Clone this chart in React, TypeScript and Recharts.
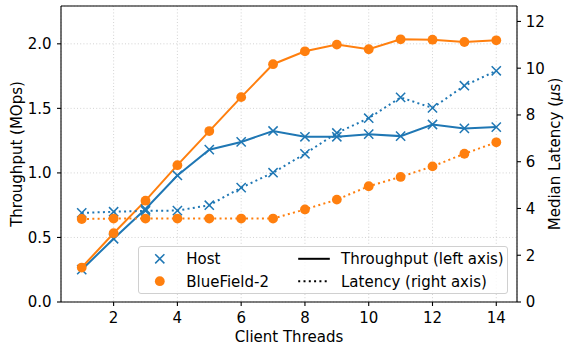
import React from 'react';
import { LineChart, Line, XAxis, YAxis, CartesianGrid, Legend, ReferenceLine } from 'recharts';

const threads = [1, 2, 3, 4, 5, 6, 7, 8, 9, 10, 11, 12, 13, 14];
const hostThroughput = [0.25, 0.49, 0.72, 0.98, 1.18, 1.24, 1.325, 1.28, 1.28, 1.30, 1.285, 1.375, 1.345, 1.355];
const bfThroughput = [0.267, 0.533, 0.785, 1.06, 1.324, 1.587, 1.842, 1.942, 1.994, 1.958, 2.035, 2.032, 2.014, 2.027];
const hostLatency = [3.81, 3.86, 3.9, 3.91, 4.14, 4.89, 5.53, 6.34, 7.23, 7.86, 8.75, 8.3, 9.25, 9.89];
const bfLatency = [3.55, 3.57, 3.57, 3.57, 3.57, 3.57, 3.57, 3.96, 4.38, 4.95, 5.35, 5.8, 6.34, 6.83];
const xTicks = [2, 4, 6, 8, 10, 12, 14];
const leftTicks = [0, 0.5, 1.0, 1.5, 2.0];
const rightTicks = [0, 2, 4, 6, 8, 10, 12];

const BLUE = '#1f77b4';
const ORANGE = '#ff7f0e';
const FONT = '"DejaVu Sans", sans-serif';
const FS = 15;
const LEFT_MAX = 2.293;
const RIGHT_MAX = 12.66;

const data = threads.map((t, i) => ({
  t,
  hostT: hostThroughput[i],
  bfT: bfThroughput[i],
  hostL: hostLatency[i],
  bfL: bfLatency[i],
}));

const XDot = (props: any) => {
  const { cx, cy, index } = props;
  if (cx == null || cy == null) return <g key={`x${index}`} />;
  const s = 4.6;
  return (
    <path
      key={`x${index}-${props.dataKey}`}
      d={`M${cx - s},${cy - s}L${cx + s},${cy + s}M${cx - s},${cy + s}L${cx + s},${cy - s}`}
      stroke={BLUE}
      strokeWidth={1.5}
      fill="none"
    />
  );
};

const ODot = (props: any) => {
  const { cx, cy, index } = props;
  if (cx == null || cy == null) return <g key={`o${index}`} />;
  return <circle key={`o${index}-${props.dataKey}`} cx={cx} cy={cy} r={4.9} fill={ORANGE} stroke="none" />;
};

const LW = 370;
const LH = 48;

const LegendBox = () => {
  const r1 = 12.8;
  const r2 = 35.2;
  const s = 4.6;
  const mx = 21.8;
  return (
    <div
      style={{
        width: LW,
        height: LH,
        boxSizing: 'border-box',
        border: '1px solid #d0d0d0',
        borderRadius: 3,
        background: 'rgba(255,255,255,0.8)',
        position: 'relative',
      }}
    >
      <svg width={LW} height={LH} style={{ position: 'absolute', left: -1, top: -1 }}>
        <path
          d={`M${mx - s},${r1 - s}L${mx + s},${r1 + s}M${mx - s},${r1 + s}L${mx + s},${r1 - s}`}
          stroke={BLUE}
          strokeWidth={1.5}
        />
        <circle cx={mx} cy={r2} r={4.9} fill={ORANGE} />
        <text x={48.2} y={r1 + 5.4} fontFamily={FONT} fontSize={FS} fill="#000">Host</text>
        <text x={48.2} y={r2 + 5.4} fontFamily={FONT} fontSize={FS} fill="#000">BlueField-2</text>
        <line x1={160.2} x2={191.8} y1={r1} y2={r1} stroke="#000" strokeWidth={2} />
        <line x1={160.2} x2={191.8} y1={r2} y2={r2} stroke="#000" strokeWidth={2} strokeDasharray="2 3.3" />
        <text x={203} y={r1 + 5.4} fontFamily={FONT} fontSize={FS} fill="#000">Throughput (left axis)</text>
        <text x={203} y={r2 + 5.4} fontFamily={FONT} fontSize={FS} fill="#000">Latency (right axis)</text>
      </svg>
    </div>
  );
};

const tickStyle = { fill: '#000', fontSize: FS, fontFamily: FONT };

export default function App() {
  return (
    <div style={{ position: 'absolute', left: 0, top: 0, background: '#fff' }}>
      <LineChart width={565} height={348} data={data} margin={{ top: 6, right: 0, bottom: 0, left: 0 }}>
        <CartesianGrid
          xAxisId="x"
          yAxisId="left"
          stroke="#c8c8c8"
          strokeWidth={0.8}
          strokeDasharray="1 2.2"
        />
        <XAxis
          xAxisId="x"
          dataKey="t"
          type="number"
          domain={[0.35, 14.65]}
          ticks={xTicks}
          allowDataOverflow
          height={46}
          tick={tickStyle}
          tickSize={4}
          tickMargin={6}
          axisLine={{ stroke: '#000', strokeWidth: 1.1 }}
          tickLine={{ stroke: '#000', strokeWidth: 1.1 }}
          label={(p: any) => (
            <text x={289} y={342} textAnchor="middle" fontFamily={FONT} fontSize={FS} fill="#000">
              Client Threads
            </text>
          )}
        />
        <YAxis
          yAxisId="left"
          orientation="left"
          type="number"
          domain={[0, LEFT_MAX]}
          ticks={leftTicks}
          allowDataOverflow
          width={61}
          tick={tickStyle}
          tickFormatter={(v: number) => v.toFixed(1)}
          tickSize={4}
          tickMargin={5.5}
          axisLine={{ stroke: '#000', strokeWidth: 1.1 }}
          tickLine={{ stroke: '#000', strokeWidth: 1.1 }}
          label={(p: any) => (
            <text
              x={17}
              y={154}
              transform="rotate(-90 17 154)"
              dy="0.35em"
              textAnchor="middle"
              fontFamily={FONT}
              fontSize={FS}
              fill="#000"
            >
              Throughput (MOps)
            </text>
          )}
        />
        <YAxis
          yAxisId="right"
          orientation="right"
          type="number"
          domain={[0, RIGHT_MAX]}
          ticks={rightTicks}
          allowDataOverflow
          width={48}
          tick={tickStyle}
          tickFormatter={(v: number) => String(v)}
          tickSize={4}
          tickMargin={4.7}
          axisLine={{ stroke: '#000', strokeWidth: 1.1 }}
          tickLine={{ stroke: '#000', strokeWidth: 1.1 }}
          label={(p: any) => (
            <text
              x={555}
              y={154}
              transform="rotate(-90 555 154)"
              dy="0.35em"
              textAnchor="middle"
              fontFamily={FONT}
              fontSize={FS}
              fill="#000"
            >
              Median Latency (<tspan fontStyle="italic">μ</tspan>s)
            </text>
          )}
        />
        <ReferenceLine xAxisId="x" yAxisId="left" y={LEFT_MAX} stroke="#000" strokeWidth={1.1} />
        <Line
          xAxisId="x"
          yAxisId="left"
          dataKey="hostT"
          stroke={BLUE}
          strokeWidth={2}
          dot={XDot}
          activeDot={false}
          isAnimationActive={false}
        />
        <Line
          xAxisId="x"
          yAxisId="left"
          dataKey="bfT"
          stroke={ORANGE}
          strokeWidth={2}
          dot={ODot}
          activeDot={false}
          isAnimationActive={false}
        />
        <Line
          xAxisId="x"
          yAxisId="right"
          dataKey="hostL"
          stroke={BLUE}
          strokeWidth={2}
          strokeDasharray="2 3.3"
          dot={XDot}
          activeDot={false}
          isAnimationActive={false}
        />
        <Line
          xAxisId="x"
          yAxisId="right"
          dataKey="bfL"
          stroke={ORANGE}
          strokeWidth={2}
          strokeDasharray="2 3.3"
          dot={ODot}
          activeDot={false}
          isAnimationActive={false}
        />
        <Legend
          layout="horizontal"
          verticalAlign="middle"
          align="center"
          content={() => <LegendBox />}
          wrapperStyle={{ position: 'absolute', left: 137.5, top: 246.3, width: LW, height: LH }}
        />
      </LineChart>
    </div>
  );
}
